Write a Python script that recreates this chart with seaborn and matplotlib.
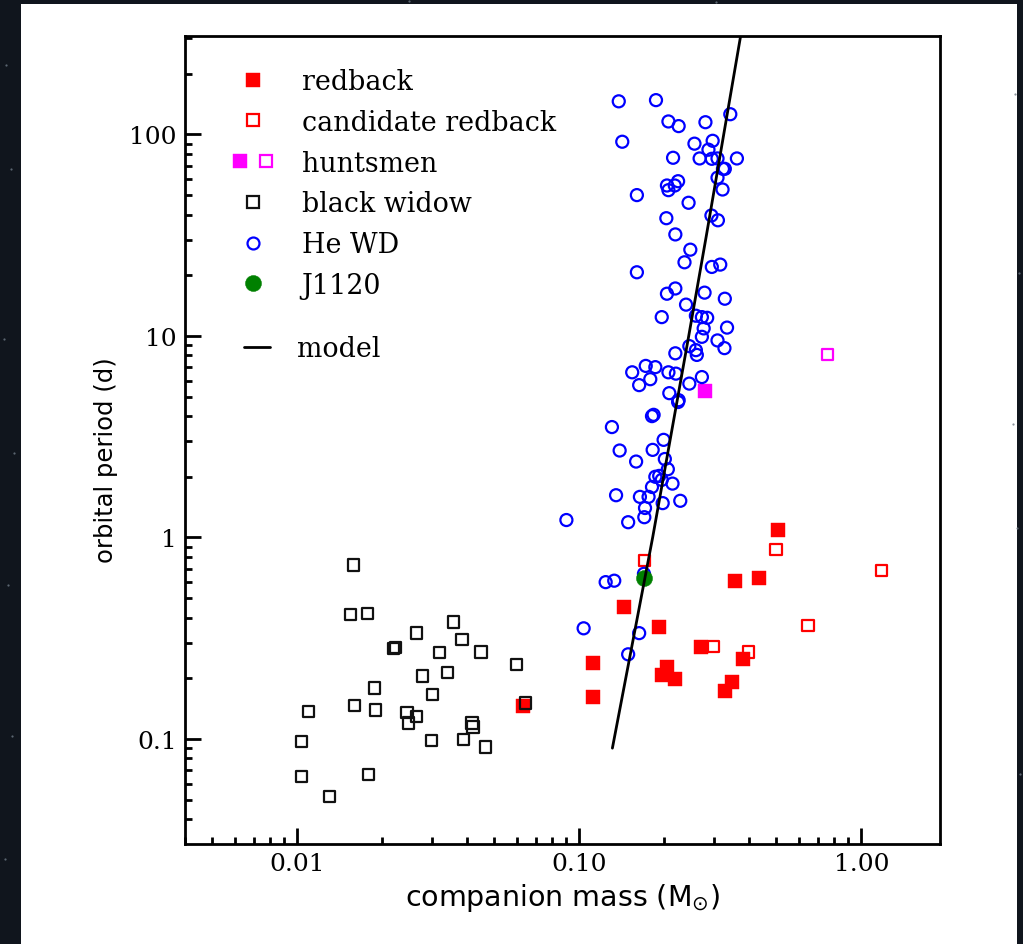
import numpy as np
import pandas as pd
import seaborn as sns
import matplotlib
matplotlib.use("Agg")
import matplotlib.pyplot as plt
from matplotlib.lines import Line2D
from matplotlib.legend_handler import HandlerTuple
from matplotlib.patches import Rectangle
from matplotlib.ticker import FixedLocator, FixedFormatter, LogLocator, NullFormatter

# ---- companion mass (Msun) and orbital period (d) per population ----
redback_mass = [0.505, 0.357, 0.435, 0.144, 0.191, 0.270, 0.112, 0.2045, 0.196,
                0.219, 0.379, 0.348, 0.329, 0.112, 0.0634]
redback_pb = [1.09, 0.61, 0.63, 0.45, 0.36, 0.287, 0.237, 0.228, 0.208,
              0.198, 0.25, 0.192, 0.172, 0.1615, 0.146]

cand_rb_mass = [0.498, 0.170, 1.18, 0.647, 0.299, 0.3985]
cand_rb_pb = [0.87, 0.77, 0.685, 0.365, 0.287, 0.27]

huntsmen_mass = [0.278]
huntsmen_pb = [5.35]
cand_huntsmen_mass = [0.76]
cand_huntsmen_pb = [8.07]

bw_mass = [0.01584, 0.01542, 0.01776, 0.0358, 0.02642, 0.02226, 0.02195, 0.03834,
           0.03197, 0.04477, 0.05979, 0.02781, 0.03412, 0.01875, 0.03017, 0.01593,
           0.01096, 0.0189, 0.02447, 0.02654, 0.02481, 0.0416, 0.04195, 0.01038,
           0.0300, 0.03888, 0.04642, 0.01038, 0.0179, 0.01299, 0.0643]
bw_pb = [0.729, 0.415, 0.418, 0.381, 0.336, 0.285, 0.280, 0.311,
         0.269, 0.270, 0.234, 0.205, 0.213, 0.179, 0.166, 0.146,
         0.137, 0.139, 0.135, 0.1295, 0.120, 0.120, 0.1147, 0.0973,
         0.0981, 0.0992, 0.0913, 0.0652, 0.0665, 0.0519, 0.151]

hewd_mass = [0.138, 0.187, 0.207, 0.225, 0.280, 0.343, 0.142, 0.256, 0.297, 0.287,
             0.215, 0.267, 0.295, 0.309, 0.362, 0.323, 0.328, 0.309, 0.160, 0.2045,
             0.207, 0.218, 0.224, 0.322, 0.244, 0.2035, 0.294, 0.310, 0.219, 0.2475,
             0.236, 0.295, 0.316, 0.160, 0.2045, 0.219, 0.278, 0.328, 0.239, 0.196,
             0.259, 0.272, 0.284, 0.334, 0.276, 0.272, 0.309, 0.327, 0.2455, 0.259,
             0.261, 0.219, 0.154, 0.172, 0.186, 0.1785, 0.207, 0.220, 0.163, 0.2455,
             0.272, 0.2085, 0.225, 0.224, 0.1834, 0.181, 0.1305, 0.199, 0.139, 0.182,
             0.159, 0.201, 0.206, 0.186, 0.192, 0.196, 0.214, 0.181, 0.135, 0.164,
             0.176, 0.1975, 0.228, 0.171, 0.170, 0.149, 0.090, 0.124, 0.133, 0.1036,
             0.163, 0.149, 0.1695]
hewd_pb = [146, 148, 116, 110, 115, 126, 92, 90, 93, 84,
           76.6, 76, 75.7, 76, 76, 67.5, 67.5, 61, 50, 55.8,
           52.9, 55.8, 58.6, 53.3, 45.8, 38.4, 39.6, 37.5, 31.9, 26.8,
           23.2, 22.0, 22.6, 20.7, 16.2, 17.2, 16.4, 15.3, 14.3, 12.4,
           12.6, 12.4, 12.3, 11.0, 10.9, 9.9, 9.5, 8.7, 8.9, 8.5,
           8.05, 8.2, 6.6, 7.1, 7.0, 6.1, 6.6, 6.5, 5.7, 5.8,
           6.25, 5.2, 4.8, 4.7, 4.06, 4.0, 3.53, 3.05, 2.7, 2.72,
           2.38, 2.45, 2.18, 2.0, 2.02, 1.93, 1.85, 1.78, 1.62, 1.59,
           1.59, 1.48, 1.52, 1.40, 1.26, 1.19, 1.22, 0.60, 0.61, 0.354,
           0.335, 0.263, 0.66]

j1120_mass = [0.169]
j1120_pb = [0.63]

# mass-period relation for He white dwarfs
model_mass = [0.131, 0.182, 0.244, 0.2817, 0.373]
model_pb = [0.090, 1.0, 9.9, 31.1, 307.0]


def frame(m, p):
    return pd.DataFrame({"mass": m, "pb": p})


sns.set_theme(style="ticks")
plt.rcParams["font.family"] = ["DejaVu Sans"]
plt.rcParams["text.color"] = "black"
plt.rcParams["axes.labelcolor"] = "black"

fig = plt.figure(figsize=(10.23, 9.45), dpi=100)
fig.patch.set_facecolor("#10151d")
# white panel behind the plot
fig.add_artist(Rectangle((21 / 1023, 0), 996 / 1023, 940 / 945,
                         transform=fig.transFigure, facecolor="white",
                         edgecolor="none", zorder=0))
# a few faint stars on the dark border
star_x = [0.006, 0.011, 0.004, 0.014, 0.008, 0.012, 0.005, 0.992, 0.996, 0.990, 0.994, 0.997, 0.40, 0.70]
star_y = [0.93, 0.82, 0.64, 0.52, 0.38, 0.22, 0.09, 0.90, 0.71, 0.55, 0.44, 0.18, 0.998, 0.997]
fig.add_artist(Line2D(star_x, star_y, transform=fig.transFigure, ls="", marker="o",
                      ms=1.6, mfc="#6f7a86", mec="none", alpha=0.8))

ax = fig.add_axes([185 / 1023, 100 / 945, 755 / 1023, 808 / 945])
ax.set_facecolor("white")
ax.set_xscale("log")
ax.set_yscale("log")

sns.scatterplot(data=frame(redback_mass, redback_pb), x="mass", y="pb", ax=ax,
                marker="s", s=92, color="red", edgecolor="red", linewidth=0.3, zorder=3)
sns.scatterplot(data=frame(cand_rb_mass, cand_rb_pb), x="mass", y="pb", ax=ax,
                marker="s", s=66, facecolors="none", edgecolor="red", linewidth=1.6, zorder=3)
sns.scatterplot(data=frame(huntsmen_mass, huntsmen_pb), x="mass", y="pb", ax=ax,
                marker="s", s=92, color="magenta", edgecolor="magenta", linewidth=0.3, zorder=3)
sns.scatterplot(data=frame(cand_huntsmen_mass, cand_huntsmen_pb), x="mass", y="pb", ax=ax,
                marker="s", s=66, facecolors="none", edgecolor="magenta", linewidth=1.6, zorder=3)
sns.scatterplot(data=frame(bw_mass, bw_pb), x="mass", y="pb", ax=ax,
                marker="s", s=66, facecolors="none", edgecolor="#111111", linewidth=1.6, zorder=3)
sns.scatterplot(data=frame(hewd_mass, hewd_pb), x="mass", y="pb", ax=ax,
                marker="o", s=75, facecolors="none", edgecolor="blue", linewidth=1.6, zorder=3)
sns.scatterplot(data=frame(j1120_mass, j1120_pb), x="mass", y="pb", ax=ax,
                marker="o", s=135, color="green", edgecolor="green", linewidth=0.3, zorder=4)
sns.lineplot(data=frame(model_mass, model_pb), x="mass", y="pb", ax=ax, sort=False,
             color="black", linewidth=2.0, zorder=5)

ax.set_xlim(0.004, 1.9)
ax.set_ylim(0.0301, 308)

# ticks
ax.xaxis.set_major_locator(FixedLocator([0.01, 0.1, 1.0]))
ax.xaxis.set_major_formatter(FixedFormatter(["0.01", "0.10", "1.00"]))
ax.xaxis.set_minor_locator(LogLocator(base=10, subs=np.arange(2, 10)))
ax.xaxis.set_minor_formatter(NullFormatter())
ax.yaxis.set_major_locator(FixedLocator([0.1, 1, 10, 100]))
ax.yaxis.set_major_formatter(FixedFormatter(["0.1", "1", "10", "100"]))
ax.yaxis.set_minor_locator(LogLocator(base=10, subs=np.arange(2, 10)))
ax.yaxis.set_minor_formatter(NullFormatter())

ax.tick_params(which="both", direction="in", top=False, right=False, width=2, color="black")
ax.tick_params(which="major", length=11.5, pad=6)
ax.tick_params(which="minor", length=5)
for lab in ax.get_xticklabels() + ax.get_yticklabels():
    lab.set_family("DejaVu Serif")
    lab.set_fontsize(18)
    lab.set_color("black")
for sp in ax.spines.values():
    sp.set_linewidth(2)
    sp.set_color("black")

ax.set_xlabel(r"companion mass (M$_{\odot}$)", fontsize=20.5, color="black", labelpad=4)
ax.set_ylabel("orbital period (d)", fontsize=17.5, color="black", labelpad=8)
ax.yaxis.label.set_y(0.4765)

# legend
serif = {"family": "DejaVu Serif", "size": 19.4}
h_rb = Line2D([], [], ls="", marker="s", ms=9.6, mfc="red", mec="red", mew=0.3)
h_crb = Line2D([], [], ls="", marker="s", ms=8.1, mfc="none", mec="red", mew=1.6)
h_hf = Line2D([], [], ls="", marker="s", ms=9.6, mfc="magenta", mec="magenta", mew=0.3)
h_ho = Line2D([], [], ls="", marker="s", ms=8.1, mfc="none", mec="magenta", mew=1.6)
h_bw = Line2D([], [], ls="", marker="s", ms=8.1, mfc="none", mec="#111111", mew=1.6)
h_he = Line2D([], [], ls="", marker="o", ms=8.6, mfc="none", mec="blue", mew=1.6)
h_j = Line2D([], [], ls="", marker="o", ms=11.6, mfc="green", mec="green", mew=0.3)
leg1 = ax.legend([h_rb, h_crb, (h_hf, h_ho), h_bw, h_he, h_j],
                 ["redback", "candidate redback", "huntsmen", "black widow", "He WD", "J1120"],
                 handler_map={tuple: HandlerTuple(ndivide=None, pad=0.35)},
                 loc="upper left", bbox_to_anchor=(0.0473, 0.9737), borderaxespad=0,
                 frameon=False, prop=serif, handlelength=1.6, handletextpad=1.0,
                 labelspacing=0.51, labelcolor="black")
ax.add_artist(leg1)
h_m = Line2D([], [], color="black", lw=2.0)
ax.legend([h_m], ["model"], loc="upper left", bbox_to_anchor=(0.0639, 0.643),
          borderaxespad=0, frameon=False, prop=serif, handlelength=0.97,
          handletextpad=1.0, labelcolor="black")

fig.savefig("out.png", dpi=100, facecolor=fig.get_facecolor())
